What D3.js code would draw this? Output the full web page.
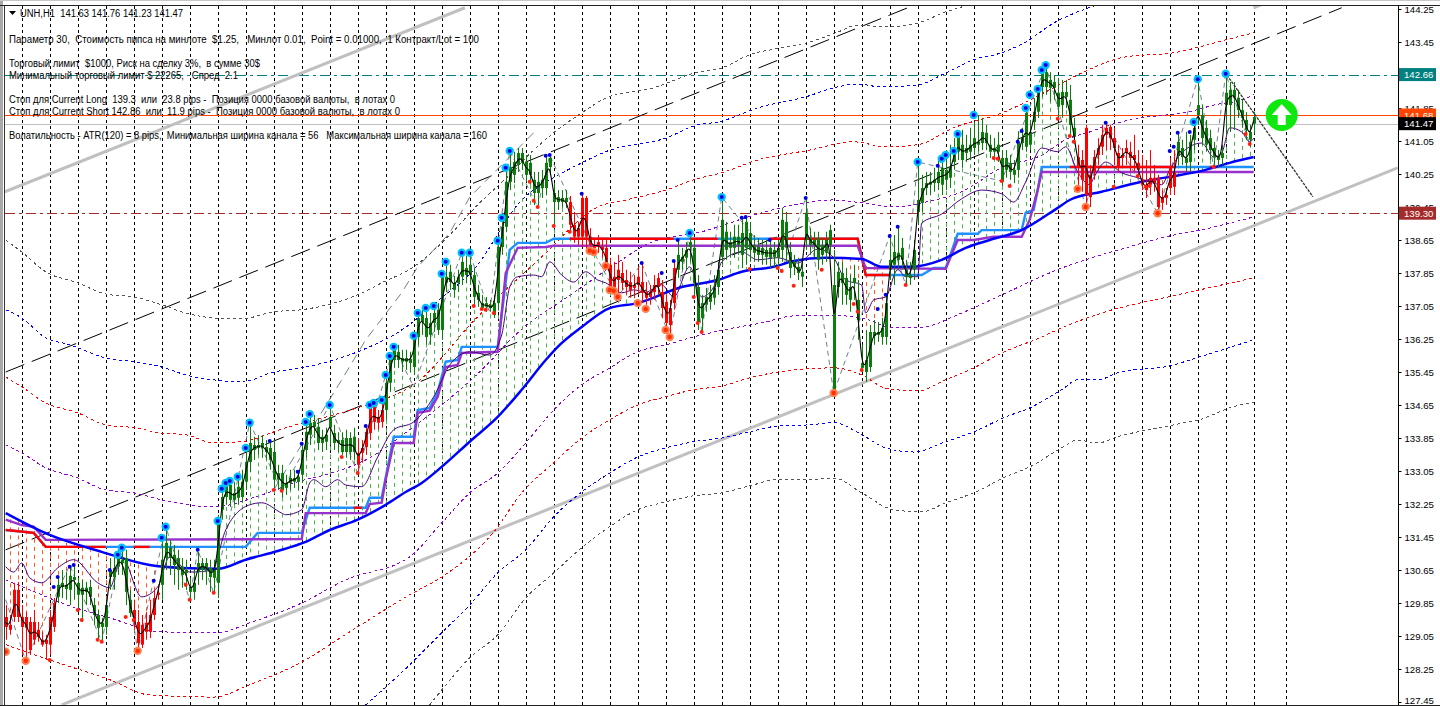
<!DOCTYPE html>
<html><head><meta charset="utf-8"><title>UNH,H1</title>
<script src="https://cdnjs.cloudflare.com/ajax/libs/d3/7.8.5/d3.min.js"></script>
<style>html,body{margin:0;padding:0;background:#fff;overflow:hidden}svg{display:block}</style>
</head><body><svg id="c" width="1440" height="706"></svg>
<script>
const tickLabels=[144.25,143.45,141.85,141.05,140.25,139.45,138.65,137.85,137.05,136.25,135.45,134.65,133.85,133.05,132.25,131.45,130.65,129.85,129.05,128.25,127.45];
const bodyTop=[
129.51,129.32,130.17,130.17,129.51,129.51,129.39,
129.39,129.20,128.96,128.96,129.51,129.85,130.29,
130.34,130.29,130.51,130.48,130.34,130.22,130.22,
130.24,129.80,129.56,129.37,129.80,130.65,130.70,
130.97,130.90,130.94,129.93,129.68,129.39,129.32,
129.37,129.56,129.97,130.10,130.90,131.31,131.19,
131.02,130.94,130.73,130.65,130.24,130.34,130.82,
130.82,130.82,130.70,130.65,131.84,132.42,132.71,
132.71,132.52,132.67,132.79,133.27,133.73,133.68,
133.68,133.73,133.63,133.61,133.51,133.00,133.00,
132.76,132.88,132.88,132.91,133.56,134.00,134.22,
134.24,134.12,133.88,133.93,134.36,133.97,133.80,
133.80,133.85,133.85,133.88,133.49,133.61,134.00,
134.60,134.60,134.36,134.53,135.19,135.79,135.99,
135.94,135.79,135.79,135.77,136.30,136.76,136.83,
136.76,136.64,136.88,136.96,137.76,137.76,137.88,
137.61,137.76,138.12,137.97,138.05,137.80,137.37,
137.12,137.12,137.08,137.12,138.48,138.97,140.06,
140.42,140.54,140.76,140.76,140.54,140.52,140.11,
140.06,140.11,140.52,140.64,139.79,139.69,139.67,
139.67,139.57,139.02,138.94,139.67,139.67,138.73,
138.53,138.60,138.48,138.46,138.05,137.76,137.93,
137.85,137.68,137.63,137.56,137.76,137.63,137.39,
137.39,137.56,137.73,137.39,137.15,137.00,137.97,
138.29,138.24,138.41,138.60,138.46,137.51,137.12,
137.27,137.37,137.49,137.93,139.14,138.85,138.60,
138.73,138.73,138.82,139.09,138.82,138.53,138.48,
138.46,138.41,138.46,138.41,138.46,139.14,139.09,
138.36,138.12,138.00,137.88,139.31,138.70,138.65,
138.70,138.53,138.65,138.89,137.56,137.88,137.85,
137.73,137.51,137.73,137.20,135.67,135.74,136.42,
136.42,136.42,136.52,137.12,138.17,138.36,138.34,
138.46,137.93,137.80,138.41,139.62,139.91,140.03,
140.06,140.11,140.30,140.40,140.35,140.42,140.79,
141.15,140.96,140.88,140.96,141.12,141.03,141.27,
141.25,140.96,140.88,140.96,140.64,140.64,140.52,
140.35,141.03,141.12,141.73,141.27,141.76,142.34,
142.72,142.72,142.53,142.48,142.22,142.24,142.24,
142.05,141.37,140.66,140.59,141.37,140.23,140.66,
140.88,141.20,141.37,141.39,141.12,140.76,140.71,
140.88,140.79,140.71,140.52,140.11,139.99,140.16,
140.16,140.16,139.69,139.74,140.42,140.28,141.03,
140.88,140.64,141.03,141.37,141.92,141.68,141.37,
141.12,140.88,140.66,140.76,142.22,142.29,142.29,
142.10,141.80,141.56,141.27,141.63];
const bodyBottom=[
129.27,129.20,129.51,129.51,129.27,129.25,128.71,
128.96,129.03,128.84,128.86,128.84,129.27,130.00,
130.24,130.19,130.17,130.41,130.05,130.05,130.12,
130.00,129.56,129.25,129.27,129.27,130.48,130.48,
130.73,130.82,130.12,129.61,129.39,128.88,128.84,
129.15,129.15,129.56,130.05,130.29,130.94,130.94,
130.77,130.65,130.53,130.58,130.12,130.12,130.60,
130.65,130.65,130.48,130.46,130.34,132.11,132.42,
132.35,132.35,132.40,132.42,132.79,133.27,133.56,
133.61,133.61,133.51,133.32,132.84,132.84,132.59,
132.64,132.76,132.79,132.79,132.96,133.56,133.93,
134.12,133.73,133.73,133.76,134.10,133.73,133.73,
133.51,133.51,133.51,133.51,133.20,133.49,133.63,
133.97,134.24,134.22,134.24,134.53,135.19,135.74,
135.74,135.70,135.70,135.67,135.57,136.30,136.66,
136.30,136.35,136.64,136.47,136.47,137.61,137.63,
137.44,137.61,137.76,137.80,137.80,137.27,137.20,
137.00,137.03,137.00,136.83,137.12,138.48,138.97,
140.06,140.23,140.47,140.52,140.23,140.23,139.79,
139.79,139.91,139.91,140.42,139.57,139.57,139.57,
139.57,139.02,138.73,138.73,138.73,138.73,138.53,
138.46,138.48,138.41,138.09,137.51,137.44,137.68,
137.61,137.51,137.44,137.49,137.56,137.37,137.25,
137.27,137.39,137.51,137.00,136.64,136.59,137.12,
137.93,138.12,138.22,138.48,137.61,136.66,136.76,
137.08,137.15,137.25,137.51,138.24,138.41,138.46,
138.46,138.53,138.29,138.46,138.41,138.34,138.29,
138.29,138.24,138.22,138.24,138.22,138.41,138.46,
137.97,138.00,137.85,137.76,138.65,138.53,138.53,
138.17,138.29,138.34,138.53,134.97,137.51,137.61,
137.32,137.20,137.61,136.71,135.55,135.45,135.57,
136.32,136.35,136.30,136.30,137.93,138.05,138.17,
138.17,137.76,137.73,137.93,139.33,139.55,139.91,
139.99,140.03,140.03,139.99,140.11,140.16,140.54,
140.79,140.59,140.76,140.79,140.88,140.96,141.00,
141.00,140.79,140.79,140.79,140.06,140.35,140.30,
140.23,140.35,141.00,140.91,140.96,141.51,141.76,
142.36,142.36,142.34,142.34,141.88,141.92,142.12,
141.44,141.15,140.42,140.11,139.74,139.69,140.30,
140.71,140.91,141.20,141.12,140.88,140.42,140.64,
140.76,140.64,140.59,140.35,139.99,139.86,139.99,
140.03,139.45,139.55,139.67,139.91,139.94,140.71,
140.66,140.52,140.54,141.08,141.68,141.12,140.96,
140.83,140.66,140.59,140.64,141.92,141.92,142.10,
141.80,141.61,141.32,141.08,141.47];
const highs=[
129.80,129.56,130.34,130.36,129.80,129.63,129.51,
129.68,129.39,129.15,129.08,129.68,129.97,130.46,
130.65,130.60,130.77,130.77,130.46,130.41,130.36,
130.41,129.97,129.68,129.49,129.93,130.94,131.02,
131.14,131.19,131.14,130.17,129.93,129.68,129.56,
129.63,129.93,130.17,130.29,131.38,131.67,131.38,
131.26,131.14,130.94,130.90,130.46,130.65,131.09,
130.94,130.94,130.90,130.90,131.99,132.59,132.84,
132.88,132.79,132.96,133.08,133.56,134.22,133.88,
133.92,133.92,133.80,133.80,133.80,133.20,133.20,
132.96,133.08,133.08,133.03,133.71,134.29,134.43,
134.41,134.34,134.05,134.10,134.65,134.17,133.99,
133.99,134.05,133.99,134.10,133.85,133.80,134.17,
134.65,134.70,134.53,134.77,135.38,135.84,136.06,
136.11,135.99,135.99,135.94,136.32,136.88,137.00,
137.00,136.88,137.05,137.12,137.83,138.12,138.05,
137.78,137.93,138.34,138.27,138.34,137.97,137.56,
137.32,137.27,137.20,137.32,138.65,139.19,140.40,
140.81,140.79,140.88,140.88,140.71,140.71,140.30,
140.30,140.35,140.69,140.71,140.03,139.86,139.86,
139.86,139.72,139.33,139.09,139.77,139.72,138.94,
138.70,138.77,138.70,138.65,138.22,138.12,138.29,
138.12,137.93,137.88,137.80,138.02,138.09,137.63,
137.56,137.80,137.85,137.68,137.32,137.20,138.12,
138.65,138.46,138.60,138.82,138.65,137.80,137.32,
137.49,137.56,137.80,138.12,139.69,139.09,138.85,
139.02,139.02,139.19,139.21,139.09,138.77,138.70,
138.65,138.65,138.65,138.60,138.65,139.43,139.33,
138.60,138.29,138.22,138.12,139.67,138.94,138.85,
138.85,138.70,138.85,139.02,138.41,138.12,138.12,
137.97,137.80,138.05,137.68,136.11,136.47,136.59,
136.71,136.66,136.76,137.32,138.73,138.77,138.97,
138.70,138.17,138.12,138.65,140.54,140.23,140.30,
140.30,140.40,140.59,140.71,140.83,140.96,141.12,
141.22,141.32,141.20,141.37,141.51,141.68,141.61,
141.44,141.20,141.12,141.27,140.83,140.83,140.71,
140.59,141.29,141.37,141.85,141.56,142.09,142.41,
142.77,142.89,142.72,142.65,142.58,142.53,142.53,
142.41,141.61,140.96,140.83,141.44,140.47,140.83,
141.12,141.44,141.49,141.44,141.37,140.96,140.88,
141.08,141.03,141.20,140.83,140.71,140.59,140.83,
140.47,140.23,139.86,139.91,140.64,140.83,141.25,
141.08,141.27,141.20,141.51,142.55,141.92,141.56,
141.32,141.03,140.83,140.96,142.68,142.48,142.48,
142.29,142.05,141.75,141.44,141.76];
const lows=[
128.96,129.08,129.39,129.39,128.59,128.45,128.59,
128.84,128.91,128.79,128.47,128.59,129.15,129.85,
129.97,129.93,129.80,129.93,129.63,129.39,129.80,
129.80,129.32,128.96,128.91,129.08,130.17,130.17,
130.53,130.53,129.80,129.51,129.20,128.71,128.76,
128.96,129.00,129.44,129.93,129.93,130.65,130.53,
130.29,130.17,130.22,130.17,129.93,129.93,130.29,
130.41,130.29,130.12,130.12,129.97,131.87,132.23,
132.18,132.23,132.23,132.28,132.59,133.03,133.32,
133.44,133.37,133.32,133.08,132.64,132.59,132.40,
132.47,132.59,132.64,132.59,132.76,133.37,133.68,
133.85,133.56,133.51,133.56,133.68,133.56,133.51,
133.44,133.37,133.32,133.32,133.00,133.25,133.44,
133.80,134.05,134.05,134.10,134.29,134.97,135.55,
135.55,135.45,135.50,135.45,135.38,136.11,136.35,
136.11,136.11,136.42,136.35,136.23,137.39,137.44,
137.25,137.39,137.56,137.61,137.56,137.08,137.03,
136.96,136.91,136.91,136.76,136.96,138.29,138.85,
139.86,140.03,140.30,140.35,140.06,139.99,139.50,
139.50,139.67,139.74,140.23,139.02,139.38,139.43,
139.43,138.85,138.58,138.53,138.48,138.41,138.36,
138.29,138.34,138.22,138.00,137.44,137.32,137.30,
137.44,137.32,137.25,137.25,137.32,137.12,137.08,
137.08,137.20,137.32,136.76,136.47,136.30,136.96,
137.73,137.93,137.93,138.12,137.27,136.47,136.42,
136.91,136.96,137.08,137.32,138.05,138.17,138.22,
138.22,138.29,137.97,138.05,138.12,138.12,138.12,
138.05,138.05,137.97,137.97,137.93,138.12,138.17,
137.73,137.80,137.68,137.51,138.41,138.29,138.22,
137.93,138.05,138.12,138.29,134.90,137.25,137.08,
137.08,136.91,137.20,136.23,135.45,135.21,135.45,
136.11,136.18,136.11,136.11,137.68,137.56,137.93,
137.93,137.56,137.56,137.68,139.02,139.33,139.74,
139.74,139.82,139.86,139.74,139.86,139.91,140.35,
140.59,140.40,140.54,140.59,140.71,140.79,140.83,
140.83,140.64,140.59,140.54,139.96,140.16,140.11,
140.03,140.16,140.83,140.79,140.83,141.32,141.61,
142.12,142.17,142.00,142.05,141.61,141.61,141.85,
141.15,141.03,139.94,139.82,139.50,139.45,140.11,
140.47,140.71,140.83,140.83,140.47,140.30,140.40,
140.47,140.30,140.30,140.16,139.86,139.67,139.74,
139.82,139.31,139.38,139.50,139.74,139.74,140.47,
140.47,140.30,140.30,140.83,141.44,140.96,140.79,
140.59,140.40,140.40,140.47,141.20,141.27,141.32,
141.61,141.37,141.08,140.91,141.23];
const redBars=[[0,12],[32,38],[88,94],[141,167],[268,292]];
const noHatchBars=[40,52];
const maLine=[[0,132.03],[11,131.50],[24,131.09],[36,130.77],[44,130.70],[53,130.68],[60,130.90],[68,131.11],[75,131.33],[81,131.62],[88,131.87],[95,132.23],[100,132.54],[104,132.76],[109,133.15],[116,133.76],[123,134.36],[129,135.02],[135,135.74],[138,136.06],[144,136.54],[151,137.00],[158,137.12],[169,137.51],[178,137.68],[184,137.88],[192,138.00],[197,138.14],[205,138.22],[214,138.19],[219,138.00],[226,138.00],[234,138.17],[240,138.46],[246,138.65],[254,138.89],[263,139.43],[266,139.62],[274,139.82],[284,140.06],[291,140.18],[300,140.35],[306,140.52],[312,140.66]];
const purpleStair=[[0,131.87],[4,131.74],[7,131.70],[10,131.38],[74,131.40],[75,132.03],[90,132.03],[91,132.25],[94,132.28],[95,132.84],[97,133.73],[102,133.73],[103,134.46],[106,134.51],[108,134.85],[110,135.57],[113,135.62],[114,135.91],[123,135.94],[125,137.85],[128,138.46],[135,138.48],[137,138.51],[213,138.51],[215,137.97],[235,137.95],[238,138.65],[242,138.65],[247,138.73],[254,138.73],[256,139.14],[258,139.86],[259,140.30],[312,140.30]];
const stopStair=[[0,131.62],[7,131.55],[10,131.21],[60,131.21],[63,131.55],[74,131.55],[76,132.16],[90,132.16],[91,132.40],[94,132.40],[97,133.88],[102,133.88],[103,134.53],[106,134.58],[108,134.97],[110,135.70],[113,135.74],[114,136.06],[123,136.06],[126,138.41],[128,138.58],[135,138.58],[137,138.68],[213,138.68],[215,137.80],[229,137.80],[232,137.97],[235,137.97],[238,138.80],[243,138.80],[244,138.89],[254,138.89],[255,139.31],[257,139.38],[258,139.86],[259,140.42],[312,140.42]];
const stopRed=[[0,25],[32,36],[87,89],[141,167],[171,178],[191,221],[266,292],[301,303]];
const bandGreyUp=[[0,138.65],[4,138.36],[10,137.88],[18,137.61],[25,137.34],[32,137.27],[39,137.08],[45,136.88],[52,136.76],[59,136.74],[67,136.91],[74,136.96],[82,137.12],[88,137.32],[94,137.61],[102,138.00],[111,138.77],[118,139.50],[126,140.23],[132,140.83],[137,141.25],[144,141.73],[150,142.09],[162,142.34],[173,142.72],[179,142.82],[186,143.14],[194,143.31],[201,143.45],[208,143.69],[213,143.86],[220,143.82],[228,143.91],[235,144.18],[239,144.30]];
const bandBlueUp=[[0,136.96],[4,136.76],[10,136.28],[16,136.11],[25,135.79],[32,135.70],[39,135.57],[45,135.38],[52,135.26],[59,135.21],[67,135.45],[74,135.55],[82,135.74],[88,135.94],[99,136.47],[109,137.25],[117,137.93],[129,139.62],[137,140.16],[144,140.52],[150,140.79],[165,141.12],[173,141.44],[178,141.51],[189,141.88],[200,142.12],[207,142.34],[213,142.43],[219,142.36],[228,142.41],[235,142.70],[242,143.02],[249,143.19],[255,143.45],[262,143.91],[268,144.18],[273,144.35]];
const bandRedUp=[[0,135.33],[4,135.09],[10,134.70],[18,134.46],[25,134.17],[32,134.10],[39,133.97],[45,133.93],[52,133.73],[59,133.76],[70,134.10],[82,134.41],[90,134.65],[102,135.14],[118,136.79],[134,138.24],[148,139.45],[155,139.62],[165,139.86],[172,140.11],[179,140.28],[188,140.59],[201,140.83],[212,141.03],[220,140.91],[228,140.96],[237,141.37],[249,141.73],[261,142.29],[269,142.70],[280,143.09],[292,143.19],[305,143.50],[312,143.67]];
const bandPurpleUp=[[0,133.68],[4,133.49],[10,133.13],[18,132.88],[25,132.59],[32,132.52],[39,132.35],[52,132.18],[64,132.47],[73,132.79],[80,132.96],[90,133.32],[101,134.05],[109,134.65],[119,135.50],[128,136.40],[142,137.37],[154,138.17],[161,138.58],[174,138.85],[189,139.31],[197,139.50],[207,139.62],[214,139.55],[222,139.45],[230,139.57],[239,139.82],[249,140.40],[259,140.71],[265,141.08],[271,141.27],[276,141.44],[284,141.61],[296,141.76],[302,141.92],[309,142.05],[312,142.17]];
const bandPurpleDn=[[0,130.41],[6,130.17],[14,129.85],[26,129.49],[39,129.15],[53,129.13],[61,129.37],[74,129.85],[85,130.41],[101,130.97],[109,131.79],[116,132.52],[123,133.00],[130,133.73],[137,134.53],[144,135.14],[151,135.55],[158,135.94],[165,136.11],[174,136.35],[181,136.50],[189,136.64],[197,136.81],[205,136.83],[214,136.76],[222,136.52],[228,136.52],[239,136.88],[249,137.32],[264,137.97],[280,138.46],[292,138.77],[300,138.92],[312,139.21]];
const bandRedDn=[[0,128.84],[11,128.47],[26,127.99],[36,127.62],[52,127.57],[61,127.87],[74,128.42],[86,129.15],[101,130.05],[109,130.48],[122,131.57],[129,132.52],[137,133.25],[144,133.85],[151,134.29],[158,134.65],[165,134.85],[172,135.02],[179,135.11],[186,135.31],[193,135.45],[201,135.53],[207,135.55],[214,135.38],[220,135.06],[228,134.99],[235,135.26],[242,135.55],[249,135.91],[259,136.30],[264,136.52],[274,136.88],[293,137.32],[312,137.73]];
const bandBlueDn=[[90,127.38],[101,128.35],[109,129.13],[116,129.80],[123,130.58],[130,131.14],[137,131.94],[144,132.54],[151,133.00],[158,133.39],[165,133.61],[172,133.76],[179,133.85],[186,134.00],[193,134.14],[201,134.17],[207,134.22],[214,133.93],[220,133.61],[227,133.51],[235,133.76],[242,134.00],[250,134.36],[256,134.58],[264,135.02],[268,135.26],[273,135.26],[278,135.43],[292,135.62],[296,135.74],[312,136.23]];
const bandGreyDn=[[106,127.38],[109,127.74],[116,128.52],[123,129.08],[130,129.97],[137,130.58],[144,131.19],[151,131.70],[158,132.11],[165,132.30],[172,132.45],[179,132.52],[186,132.69],[193,132.84],[201,132.84],[207,132.88],[214,132.52],[222,132.11],[229,132.06],[235,132.28],[242,132.52],[250,132.91],[256,133.15],[264,133.61],[268,133.80],[273,133.73],[278,133.88],[292,134.17],[299,134.31],[306,134.58],[312,134.72]];
const signalLine=[[0,130.73],[2,130.60],[4,130.82],[6,130.46],[9,130.34],[13,130.70],[17,130.90],[23,130.34],[26,130.22],[29,130.97],[34,130.00],[38,130.24],[41,130.97],[46,130.60],[52,130.65],[53,130.97],[55,131.62],[61,132.23],[64,132.28],[69,132.03],[70,131.99],[74,132.11],[76,132.76],[77,132.84],[80,132.67],[83,132.84],[85,132.71],[89,132.67],[93,133.39],[97,134.05],[102,134.24],[107,134.85],[111,135.62],[116,135.94],[121,135.86],[124,136.35],[126,137.51],[128,137.76],[132,137.80],[134,137.76],[136,138.12],[139,137.80],[142,137.63],[145,137.88],[148,137.68],[150,137.61],[154,137.37],[157,137.44],[160,137.39],[164,137.56],[167,137.27],[171,138.00],[174,137.27],[177,137.51],[179,138.12],[184,138.36],[188,138.17],[193,138.22],[198,138.09],[203,138.43],[207,138.22],[210,137.68],[214,137.56],[215,136.88],[217,137.20],[220,137.27],[223,137.93],[225,137.76],[228,137.76],[229,139.06],[234,139.28],[239,139.65],[244,139.86],[249,139.77],[252,139.57],[255,140.06],[259,140.88],[263,140.79],[265,140.91],[268,140.30],[271,139.99],[272,140.16],[275,140.54],[279,140.28],[283,140.16],[286,140.06],[289,139.99],[291,140.35],[294,140.76],[299,141.00],[302,140.66],[304,140.76],[306,141.37],[309,141.27],[311,141.03],[312,141.12]];
const zigzagMinor=[[0,129.93],[5,128.45],[16,130.77],[24,128.91],[29,131.19],[33,128.69],[40,131.70],[46,129.93],[48,131.14],[52,130.10],[61,134.22],[69,132.57],[81,134.65],[88,133.00],[97,136.06],[102,135.09],[114,138.34],[116,138.34],[121,136.88],[126,140.81],[133,139.45],[136,140.71],[147,138.36],[153,137.27],[159,138.09],[166,136.30],[171,138.82],[174,136.42],[179,139.69],[194,137.90],[200,139.67],[207,134.94],[221,138.75],[225,137.56],[228,140.54],[249,140.08],[260,142.89],[270,139.45],[275,141.49],[288,139.30],[298,142.55],[302,140.42],[305,142.68],[311,140.98]];
const zigzagMajor=[[67,132.59],[84,135.26],[90,136.23],[99,137.37],[103,138.00],[111,138.82],[116,139.69],[132,141.25]];
const pivotHighBig=[[28,131.02],[29,131.19],[39,131.43],[40,131.70],[53,131.84],[54,132.62],[55,132.76],[56,132.81],[58,132.91],[60,133.61],[61,134.22],[75,134.24],[76,134.43],[81,134.65],[91,134.65],[92,134.70],[94,134.77],[95,135.38],[96,135.84],[97,136.06],[102,136.33],[103,136.88],[105,137.00],[107,137.05],[109,137.83],[110,138.12],[114,138.34],[116,138.34],[123,138.63],[124,139.19],[125,140.40],[126,140.81],[171,138.82],[179,139.69],[228,140.54],[234,140.62],[235,140.71],[237,140.81],[238,141.22],[242,141.68],[255,141.85],[256,142.17],[258,142.31],[259,142.77],[260,142.89],[297,141.51],[298,142.55],[305,142.68]];
const pivotHighSmall=[[12,130.24],[13,130.48],[16,130.73],[17,130.77],[26,130.65],[37,130.39],[48,131.14],[66,133.78],[73,133.03],[74,133.71],[90,134.14],[135,140.69],[136,140.71],[144,139.77],[159,138.09],[164,137.85],[167,138.14],[168,138.65],[184,139.19],[185,139.21],[191,138.65],[200,139.67],[218,136.98],[220,137.32],[221,138.75],[223,138.97],[233,140.45],[253,141.03],[254,141.29],[275,141.49],[291,140.81],[292,140.91],[293,141.25],[296,141.27]];
const pivotLowSmall=[[11,128.47],[18,129.68],[19,129.44],[23,128.96],[24,128.91],[30,129.51],[32,129.44],[45,130.29],[46,129.93],[52,130.10],[67,132.59],[69,132.57],[84,133.39],[88,133.00],[117,137.05],[119,136.98],[120,136.96],[122,136.88],[131,140.06],[132,139.60],[133,139.45],[137,138.99],[141,138.85],[172,137.27],[173,136.64],[174,136.42],[186,137.95],[193,137.97],[194,137.90],[197,137.54],[204,137.93],[212,137.10],[213,136.91],[214,135.50],[225,137.56],[247,140.64],[248,140.62],[249,140.08],[251,139.96],[263,141.59],[266,141.17],[267,141.03],[277,139.94],[283,140.20],[285,139.94],[286,139.96],[302,140.42],[310,141.22],[311,140.98]];
const pivotLowBig=[[0,128.67],[5,128.45],[33,128.69],[146,138.39],[147,138.36],[150,138.02],[151,137.44],[152,137.42],[153,137.27],[158,137.12],[160,136.98],[165,136.47],[166,136.30],[207,134.94],[268,139.89],[270,139.45],[288,139.30]];
const greyTrendA=[[-0.2,139.82],[114.8,144.28]];
const greyTrendB=[[14,127.38],[348,140.40]];
const greyTrendC=[[312,144.28],[314.2,144.37]];
const blackTrendA=[[0,135.45],[227.3,144.35]];
const blackTrendB=[[0,131.14],[334,144.28]];
const darkTrend=[[305.3,142.65],[326.8,139.70]];
const priceBoxes=[["142.66",142.66,"#008080"],["139.30",139.30,"#a52a2a"],["141.68",141.68,"#ff4500"],["141.47",141.47,"#000000"]];
const infoLines=[
["UNH,H1  141.63 141.76 141.23 141.47",20,13,163],
["Параметр 30,  Стоимость пипса на минлоте  $1.25,   Минлот 0.01,  Point = 0.01000,  1 Контракт/Lot = 100",9,39,470],
["Торговый лимит  $1000, Риск на сделку 3%,  в сумме 30$",9,63,251],
["Минимальный торговый лимит $ 22265,   Спред  2.1",9,75,229],
["Стоп для Current Long  139.3  или  23.8 pips -  Позиция 0000 базовой валюты,  в лотах 0",9,99,386],
["Стоп для Current Short 142.86  или  11.9 pips -  Позиция 0000 базовой валюты,  в лотах 0",9,111,391],
["Волатильность - ATR(120) = 8 pips,  Минимальная ширина канала = 56   Максимальная ширина канала = 160",9,135,478]];

const FONT='"Liberation Sans",Arial,sans-serif';
const svg=d3.select("#c");
const x=d3.scaleLinear().domain([0,312]).range([5.7,1253.7]);
const y=d3.scaleLinear().domain([144.25,127.45]).range([9,702]);
const line=d3.line().x(d=>x(d[0])).y(d=>y(d[1]));
const smooth=d3.line().x(d=>x(d[0])).y(d=>y(d[1])).curve(d3.curveMonotoneX);
svg.append("defs").append("clipPath").attr("id","plot").append("rect").attr("x",5).attr("y",6).attr("width",1393).attr("height",699);
const chart=svg.append("g").attr("clip-path","url(#plot)");
const inRanges=(i,r)=>r.some(a=>i>=a[0]&&i<=a[1]);

// day separators
const gridBars=d3.range(4,313,7).concat([320]);
chart.selectAll("line.grid").data(gridBars).join("line").attr("class","grid")
 .attr("x1",d=>Math.round(x(d))+.5).attr("x2",d=>Math.round(x(d))+.5).attr("y1",6).attr("y2",705)
 .attr("stroke","#000").attr("stroke-width",1).attr("stroke-dasharray","3,3");

// horizontal levels
const hline=(p,c,dash)=>chart.append("line").attr("x1",5).attr("x2",1398).attr("y1",Math.round(y(p))+.5).attr("y2",Math.round(y(p))+.5).attr("stroke",c).attr("stroke-width",1).attr("stroke-dasharray",dash||null);
hline(142.66,"#008080","10,4,3,4");
hline(139.30,"#a52a2a","10,4,3,4");
hline(141.68,"#ff4500");
hline(141.47,"#c0c0c0");

// trend lines
const path=(d,c,w,dash,gen)=>chart.append("path").attr("d",(gen||line)(d)).attr("fill","none").attr("stroke",c).attr("stroke-width",w).attr("stroke-dasharray",dash||null);
path(greyTrendA,"#c0c0c0",3);path(greyTrendB,"#c0c0c0",3);path(greyTrendC,"#c0c0c0",3);
path(blackTrendA,"#000",1,"20,8");path(blackTrendB,"#000",1,"20,8");

// envelope bands
const band=(d,c)=>path(d,c,1,"3,3",smooth).attr("shape-rendering","crispEdges");
band(bandGreyUp,"#555555");band(bandGreyDn,"#555555");
band(bandBlueUp,"#0000ff");band(bandBlueDn,"#0000ff");
band(bandRedUp,"#ff0000");band(bandRedDn,"#ff0000");
band(bandPurpleUp,"#9400d3");band(bandPurpleDn,"#9400d3");

// hatching
const maAt=d3.scaleLinear().domain(maLine.map(d=>d[0])).range(maLine.map(d=>d[1]));
const mids=bodyTop.map((t,i)=>(t+bodyBottom[i])/2);
const hatchBars=d3.range(1,313,2).filter(i=>!inRanges(i,[noHatchBars]));
chart.selectAll("line.hatch").data(hatchBars).join("line").attr("class","hatch")
 .attr("x1",i=>Math.round(x(i))+.5).attr("x2",i=>Math.round(x(i))+.5)
 .attr("y1",i=>y(mids[i])).attr("y2",i=>y(maAt(i)))
 .attr("stroke",i=>mids[i]>=maAt(i)?"#45bb45":"#ff5a1f").attr("stroke-width",1).attr("stroke-dasharray","4,4");

// zigzags
path(zigzagMinor,"#708090",1,"5,4");
path(zigzagMajor,"#708090",1,"9,6");

// stair lines and the moving average
path(stopStair,"#1e90ff",2.4);
const stopAt=d3.scaleLinear().domain(stopStair.map(d=>d[0])).range(stopStair.map(d=>d[1]));
stopRed.forEach(r=>path(d3.range(r[0],r[1]+1).map(i=>[i,stopAt(i)]),"#ff0000",2.4));
path(purpleStair,"#9932cc",2.4);
path(maLine,"#0000ff",2.5,null,smooth);
path(signalLine,"#4b0082",1,null,smooth);

// candles
const bars=d3.range(bodyTop.length);
const colour=i=>inRanges(i,redBars)?"#ff0000":"#0a7d0a";
chart.selectAll("line.wick").data(bars).join("line").attr("class","wick")
 .attr("x1",i=>Math.round(x(i))+.5).attr("x2",i=>Math.round(x(i))+.5)
 .attr("y1",i=>y(highs[i])).attr("y2",i=>y(lows[i])).attr("stroke",colour).attr("stroke-width",1);
chart.selectAll("rect.body").data(bars).join("rect").attr("class","body")
 .attr("x",i=>Math.round(x(i))-1).attr("width",3)
 .attr("y",i=>y(bodyTop[i])).attr("height",i=>Math.max(1,y(bodyBottom[i])-y(bodyTop[i]))).attr("fill",colour);

// smoothed price
chart.append("path").attr("d",d3.line().x((d,i)=>x(i)).y(d=>y(d)).curve(d3.curveBasis)(mids)).attr("fill","none").attr("stroke","#000").attr("stroke-width",1.1);
path(darkTrend,"#333",1.3,"3,1");

// pivot markers
const dots=(data,r,c)=>chart.append("g").selectAll("circle").data(data).join("circle").attr("cx",d=>x(d[0])).attr("cy",d=>y(d[1])).attr("r",r).attr("fill",c);
dots(pivotHighBig,4.2,"#00bfff");dots(pivotHighBig,2,"#0000e0");
dots(pivotHighSmall,2,"#0000e0");
dots(pivotLowSmall,2,"#ff2010");
dots(pivotLowBig,4.2,"#ff7f50");dots(pivotLowBig,2.2,"#ff3000");

// signal arrow
const ax=x(319),ay=y(141.68);
chart.append("circle").attr("cx",ax).attr("cy",ay).attr("r",16).attr("fill","#0fe80f");
chart.append("path").attr("transform",`translate(${ax},${ay})`).attr("d","M0,-11L10,0L4,0L4,10L-4,10L-4,0L-10,0Z").attr("fill","#fff");

// chrome
svg.append("rect").attr("x",0).attr("y",0).attr("width",3).attr("height",706).attr("fill","#a9a9a9");
svg.append("rect").attr("x",4).attr("y",5).attr("width",1).attr("height",701).attr("fill","#333");
svg.append("rect").attr("x",0).attr("y",5).attr("width",1440).attr("height",1).attr("fill","#222");
svg.append("rect").attr("x",0).attr("y",705).attr("width",1440).attr("height",1).attr("fill","#222");
svg.append("rect").attr("x",0).attr("y",0).attr("width",1440).attr("height",1).attr("fill","#c8c8c8");

// price axis
const axis=d3.axisRight(y).tickValues(tickLabels).tickFormat(d3.format(".2f")).tickSize(3).tickPadding(3);
const ag=svg.append("g").attr("transform","translate(1398.5,0)").call(axis);
ag.select(".domain").attr("d","M0,5V705").attr("stroke","#000");
ag.selectAll("text").attr("font-family",FONT).attr("font-size",9.6).attr("fill","#000");
ag.selectAll(".tick").filter(d=>d===127.45).select("text").attr("dy","0.12em");
ag.selectAll("line").attr("stroke","#000");

const boxes=svg.selectAll("g.box").data(priceBoxes).join("g").attr("class","box").attr("transform",d=>`translate(1399,${y(d[1])-6.5})`);
boxes.append("rect").attr("width",37).attr("height",13).attr("fill",d=>d[2]);
boxes.append("text").attr("x",5).attr("y",10).text(d=>d[0]).attr("fill","#fff").attr("font-family",FONT).attr("font-size",9.6);

// info text
svg.append("path").attr("d","M9,11H16L12.5,15Z").attr("fill","#000");
svg.selectAll("text.info").data(infoLines).join("text").attr("class","info")
 .attr("xml:space","preserve").style("white-space","pre")
 .attr("x",d=>d[1]).attr("y",d=>d[2]+3.5).attr("textLength",d=>d[3]).attr("lengthAdjust","spacingAndGlyphs")
 .attr("font-family",FONT).attr("font-size",10).attr("fill","#000").text(d=>d[0]);
</script></body></html>
